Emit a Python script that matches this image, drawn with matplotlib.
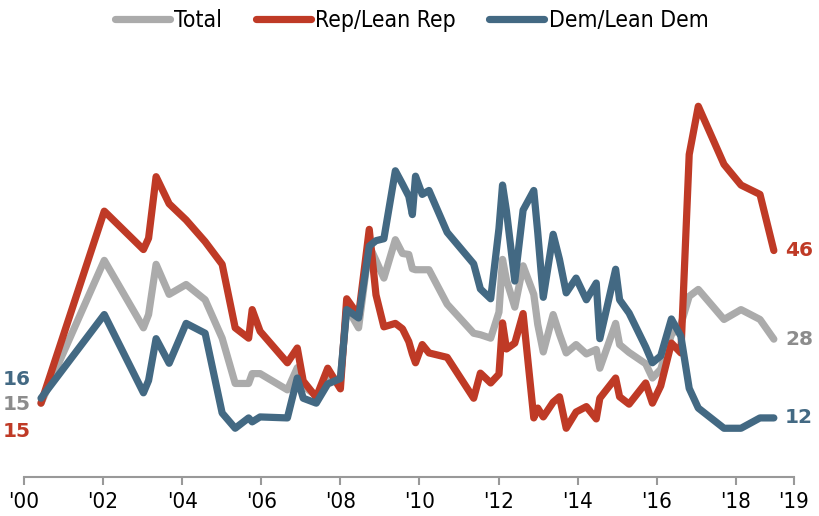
import matplotlib
matplotlib.use("Agg")
import matplotlib.pyplot as plt
from matplotlib.font_manager import FontProperties

# survey dates (fractional years) shared by the three series
dates = [2000.43, 2002.03, 2003.02, 2003.15, 2003.34, 2003.67, 2004.10, 2004.58,
         2005.01, 2005.34, 2005.68, 2005.77, 2005.97, 2006.66, 2006.91, 2007.06,
         2007.39, 2007.68, 2008.00, 2008.16, 2008.46, 2008.73, 2008.90, 2009.10,
         2009.39, 2009.57, 2009.73, 2009.82, 2009.90, 2010.07, 2010.24, 2010.70,
         2011.37, 2011.54, 2011.80, 2012.01, 2012.10, 2012.20, 2012.41, 2012.62,
         2012.89, 2012.99, 2013.13, 2013.38, 2013.54, 2013.71, 2013.96, 2014.22,
         2014.47, 2014.56, 2014.96, 2015.06, 2015.30, 2015.72, 2015.89, 2016.10,
         2016.37, 2016.61, 2016.82, 2017.05, 2017.70, 2018.13, 2018.61, 2018.96]

total = [15, 44, 30.3, 33, 43.2, 37.1, 39.1, 36.0,
         28.2, 19, 19, 21, 21, 17.7, 22.2, 18.5,
         16.5, 20, 19.8, 34.5, 30.3, 47, 44, 40.4,
         48.2, 45.4, 45.2, 42.3, 42.1, 42.1, 42.1, 35.1,
         29.2, 28.9, 28.2, 33.5, 44.2, 40, 34.5, 42.9,
         37.1, 31, 25.4, 33.0, 29, 25.2, 26.9, 25,
         25.9, 22.1, 31.2, 26.9, 25.3, 23.0, 20.1, 21.9,
         28.9, 31, 36.7, 38.1, 32, 34, 32, 28]

rep = [15, 54, 46.2, 48.5, 61, 55.5, 52.2, 47.8,
       43.2, 30.3, 28.2, 34, 29.6, 23.2, 26.2, 19.5,
       16.2, 22.1, 17.9, 36.2, 32.8, 50.3, 37, 30.5,
       31.2, 30.1, 27.5, 25, 23.2, 26.9, 25.2, 24.3,
       16.0, 21.1, 19.1, 20.9, 31.3, 26, 27.2, 33.2,
       12.0, 14.0, 12.2, 15.2, 16.3, 9.9, 13.2, 14.3,
       11.8, 16.0, 20.1, 16.3, 14.8, 19.1, 15.0, 18.5,
       27.2, 25.2, 65.5, 75.3, 63.5, 59.3, 57.4, 46]

dem = [16, 33, 17.1, 19.6, 28.1, 23.1, 31.2, 29.2,
       13, 9.9, 12, 11.2, 12.2, 12, 20.1, 16,
       15, 18.9, 20, 34, 32.3, 46.9, 48, 48.4,
       62.2, 59.5, 57, 53.3, 61.1, 57.4, 58.2, 49.7,
       43.3, 38.2, 36.2, 50.5, 59.3, 54, 39.8, 54.2,
       58.2, 49.7, 36.5, 49.3, 44.2, 37.4, 40.4, 36.0,
       39.4, 28.1, 42.2, 36.0, 33.3, 26.4, 23.2, 24.6,
       32.1, 28.6, 18, 14, 9.9, 9.9, 12, 12]

tick_pos = [2000, 2002, 2004, 2006, 2008, 2010, 2012, 2014, 2016, 2018, 2019.47]
tick_lab = ["'00", "'02", "'04", "'06", "'08", "'10", "'12", "'14", "'16", "'18", "'19"]

gray = '#ababab'
red = '#bf3a26'
blue = '#436983'
gray_txt = '#8c8c8c'
narrow_tick = FontProperties(family=['DejaVu Sans'], stretch='condensed', size=16)
narrow_leg = FontProperties(family=['DejaVu Sans'], stretch='condensed', size=16.5)

fig = plt.figure(figsize=(8.2, 5.16), dpi=100)
ax = fig.add_axes([24 / 820, 1 - 477 / 516, 770 / 820, 417 / 516])

kw = dict(lw=5.2, solid_capstyle='round', solid_joinstyle='round')
ax.plot(dates, total, color=gray, label='Total', zorder=2, **kw)
ax.plot(dates, rep, color=red, label='Rep/Lean Rep', zorder=3, **kw)
ax.plot(dates, dem, color=blue, label='Dem/Lean Dem', zorder=4, **kw)

ax.set_xlim(2000, 2019.47)
ax.set_ylim(0, 84.7)

for s in ['left', 'right', 'top']:
    ax.spines[s].set_visible(False)
ax.spines['bottom'].set_color('#999999')
ax.spines['bottom'].set_linewidth(1.5)
ax.set_yticks([])
ax.set_xticks(tick_pos)
ax.set_xticklabels(tick_lab, fontproperties=narrow_tick)
ax.tick_params(axis='x', length=6, width=1.5, color='#999999', pad=5)

# start values on the left
nb = dict(fontsize=14.5, fontweight='bold', family='DejaVu Sans', ha='right', va='center')
ax.text(2000.18, 19.8, '16', color=blue, clip_on=False, **nb)
ax.text(2000.18, 14.8, '15', color=gray_txt, clip_on=False, **nb)
ax.text(2000.18, 9.3, '15', color=red, clip_on=False, **nb)

# end values on the right
for ys, c in [(rep, red), (total, gray_txt), (dem, blue)]:
    ax.annotate(str(round(ys[-1])), xy=(dates[-1], ys[-1]), xytext=(8, 0),
                textcoords='offset points', va='center', ha='left', color=c,
                fontsize=14.5, fontweight='bold', family='DejaVu Sans',
                annotation_clip=False)

fig.legend(loc='center', bbox_to_anchor=(0.502, 0.961), ncol=3, frameon=False,
           prop=narrow_leg, handlelength=2.4, handletextpad=0.2, columnspacing=1.45)

fig.savefig('out.png', dpi=100)
